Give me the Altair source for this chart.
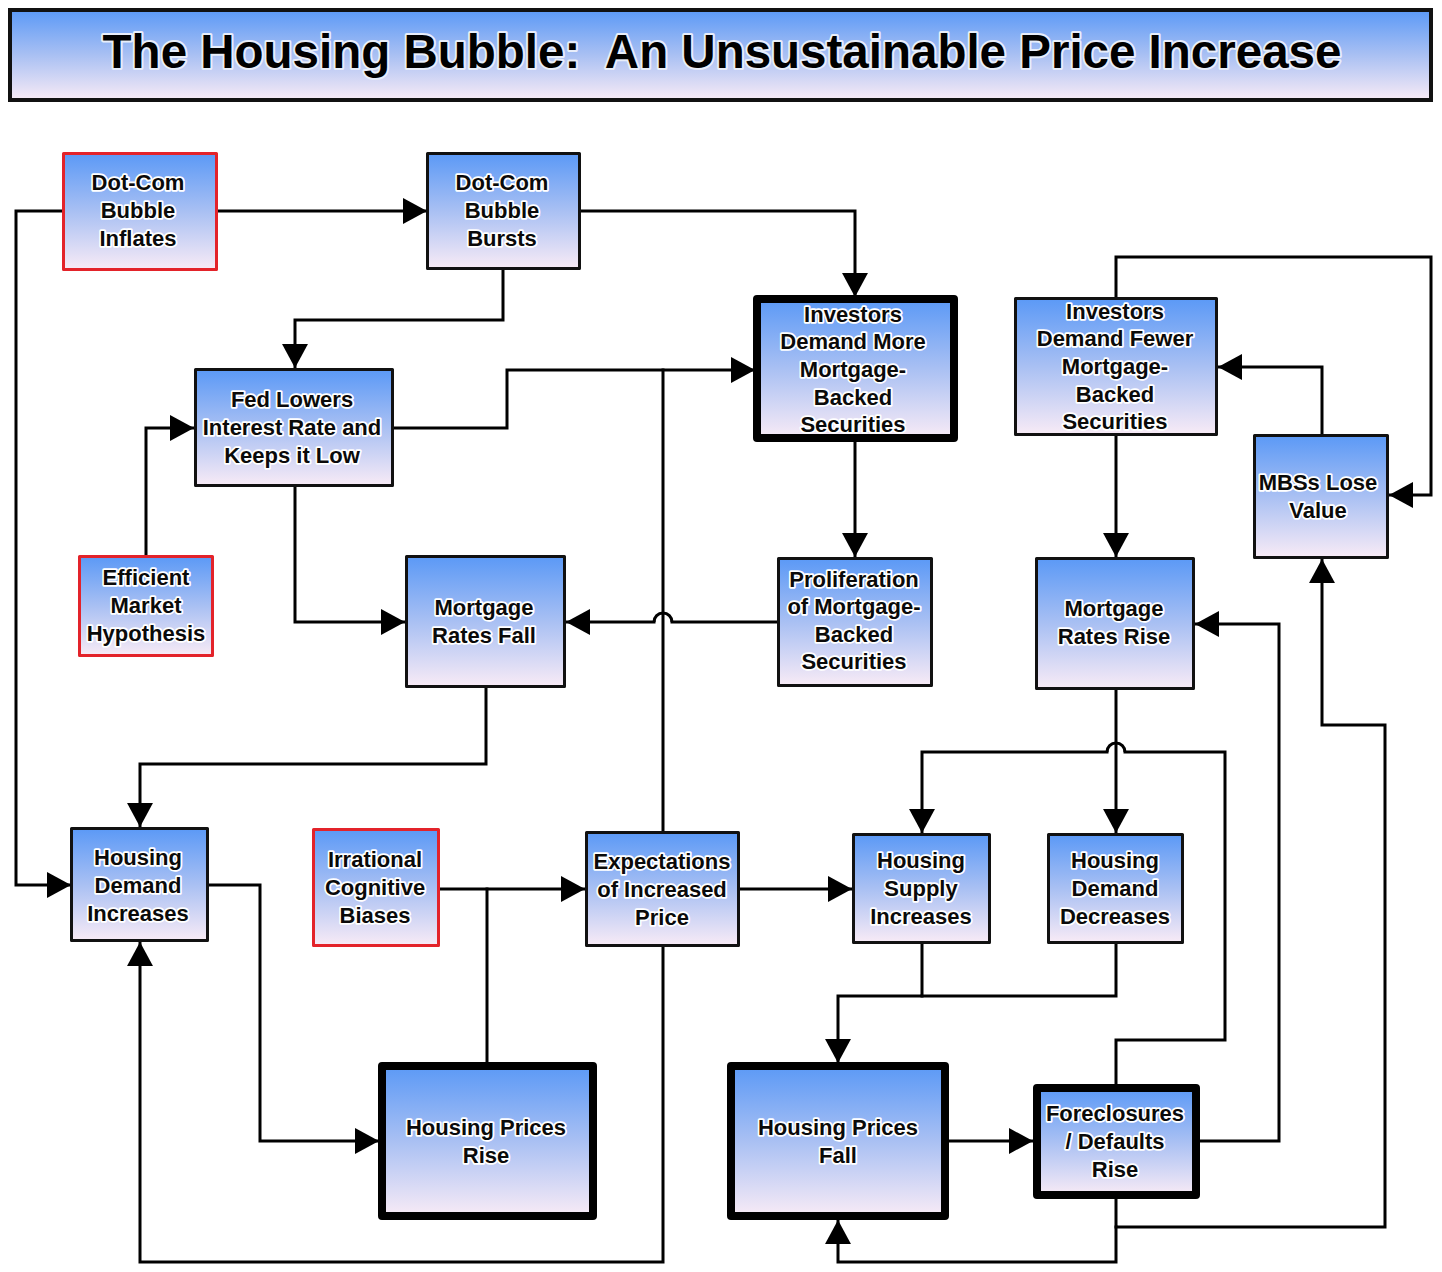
import altair as alt
import pandas as pd

TITLE = "The Housing Bubble:\u00a0 An Unsustainable Price Increase"

# ---- nodes (outer edges of each box, border kind) ----
box_labels = [
    "Dot-Com\nBubble\nInflates",
    "Dot-Com\nBubble\nBursts",
    "Investors\nDemand More\nMortgage-\nBacked\nSecurities",
    "Investors\nDemand Fewer\nMortgage-\nBacked\nSecurities",
    "MBSs Lose\nValue",
    "Fed Lowers\nInterest Rate and\nKeeps it Low",
    "Efficient\nMarket\nHypothesis",
    "Mortgage\nRates Fall",
    "Proliferation\nof Mortgage-\nBacked\nSecurities",
    "Mortgage\nRates Rise",
    "Housing\nDemand\nIncreases",
    "Irrational\nCognitive\nBiases",
    "Expectations\nof Increased\nPrice",
    "Housing\nSupply\nIncreases",
    "Housing\nDemand\nDecreases",
    "Housing Prices\nRise",
    "Housing Prices\nFall",
    "Foreclosures\n/ Defaults\nRise",
]
box_left   = [62, 426, 753, 1014, 1253, 194, 78, 405, 777, 1035, 70, 312, 585, 852, 1047, 378, 727, 1033]
box_top    = [152, 152, 295, 297, 434, 368, 555, 555, 557, 557, 827, 828, 831, 833, 833, 1062, 1062, 1084]
box_right  = [218, 581, 958, 1218, 1389, 394, 214, 566, 933, 1195, 209, 440, 740, 991, 1184, 597, 949, 1200]
box_bottom = [271, 270, 442, 436, 559, 487, 657, 688, 687, 690, 942, 947, 947, 944, 944, 1220, 1220, 1199]
box_kind   = ["red", "thin", "thick", "thin", "thin", "thin", "red", "thin", "thin", "thin",
              "thin", "red", "thin", "thin", "thin", "thick", "thick", "thick"]
text_x = [138, 502, 853, 1115, 1318, 292, 146, 484, 854, 1114, 138, 375, 662, 921, 1115, 486, 838, 1115]
text_y = [211, 211, 370, 367, 497, 428, 606, 622, 621, 623, 886, 888, 890, 889, 889, 1142, 1142, 1142]

# ---- connectors (polylines) ----
paths = [
    [(217, 211), (427, 211)],
    [(62, 211), (16, 211), (16, 885), (71, 885)],
    [(580, 211), (855, 211), (855, 297)],
    [(503, 269), (503, 320), (295, 320), (295, 368)],
    [(393, 428), (507, 428), (507, 370), (755, 370)],
    [(146, 556), (146, 428), (194, 428)],
    [(295, 486), (295, 622), (405, 622)],
    [(855, 440), (855, 557)],
    [(778, 622), (672, 622)],
    [(654, 622), (566, 622)],
    [(663, 832), (663, 370)],
    [(486, 687), (486, 764), (140, 764), (140, 827)],
    [(208, 885), (260, 885), (260, 1141), (379, 1141)],
    [(487, 1063), (487, 889)],
    [(439, 889), (585, 889)],
    [(739, 889), (852, 889)],
    [(663, 946), (663, 1262), (140, 1262), (140, 942)],
    [(1116, 435), (1116, 557)],
    [(1116, 689), (1116, 833)],
    [(1116, 1085), (1116, 1040), (1225, 1040), (1225, 752), (1125, 752)],
    [(1107, 752), (922, 752), (922, 833)],
    [(922, 943), (922, 996), (838, 996), (838, 1063)],
    [(1116, 943), (1116, 996), (922, 996)],
    [(947, 1141), (1033, 1141)],
    [(1198, 1141), (1279, 1141), (1279, 624), (1195, 624)],
    [(1116, 1198), (1116, 1227), (1385, 1227), (1385, 725), (1322, 725), (1322, 559)],
    [(1116, 1227), (1116, 1262), (838, 1262), (838, 1220)],
    [(1322, 435), (1322, 367), (1218, 367)],
    [(1116, 298), (1116, 257), (1431, 257), (1431, 495), (1389, 495)],
]

# arrow tips: x, y, direction (degrees clockwise from pointing right)
arrow_x = [427, 71, 855, 295, 755, 194, 405, 855, 566, 140, 379, 585, 852, 140,
           1116, 1116, 922, 838, 1033, 1195, 1322, 838, 1218, 1389]
arrow_y = [211, 885, 297, 368, 370, 428, 622, 557, 622, 827, 1141, 889, 889, 942,
           557, 833, 833, 1063, 1141, 624, 559, 1220, 367, 495]
arrow_dir = [0, 0, 90, 90, 0, 0, 0, 90, 180, 90, 0, 0, 0, 270,
             90, 90, 90, 90, 0, 180, 270, 270, 180, 180]

# line-jump hops
hop_x = [663, 1116]
hop_y = [622, 752]

LH = 27.6

# ---- build tables ----
stroke_col = {"red": "#e3232a", "thin": "#111111", "thick": "#000000"}
stroke_w = {"red": 3, "thin": 3, "thick": 8}
rows = []
for i, lab in enumerate(box_labels):
    k = box_kind[i]
    h = stroke_w[k] / 2
    n = lab.count("\n")
    rows.append(dict(l=box_left[i] + h, r=box_right[i] - h, t=box_top[i] + h, b=box_bottom[i] - h,
                     stroke=stroke_col[k], sw=stroke_w[k], label=lab,
                     tx=text_x[i], ty=text_y[i] - n * LH / 2))
boxes = pd.DataFrame(rows)

prow = []
for pid, pts in enumerate(paths):
    for j, (px, py) in enumerate(pts):
        prow.append(dict(pid=pid, ord=j, x=px, y=py))
lines = pd.DataFrame(prow)

arrows = pd.DataFrame(dict(x=arrow_x, y=arrow_y, ang=arrow_dir))
hops = pd.DataFrame(dict(x=hop_x, y=hop_y))
title_df = pd.DataFrame([dict(l=10, r=1431, t=10, b=100, x=722, y=54, label=TITLE)])

xs = alt.Scale(domain=[8, 1434], nice=False, zero=False)
ys = alt.Scale(domain=[8, 1264], nice=False, zero=False, reverse=True)

def X(f):
    return alt.X(f, type="quantitative", scale=xs, axis=None)

def Y(f):
    return alt.Y(f, type="quantitative", scale=ys, axis=None)

grad = {
    "gradient": "linear", "x1": 0, "y1": 0, "x2": 0, "y2": 1,
    "stops": [
        {"offset": 0, "color": "#5b99f6"},
        {"offset": 0.5, "color": "#a9c0f3"},
        {"offset": 1, "color": "#f8ebf6"},
    ],
}

FONT = "Liberation Sans"
FS = 22
TFS = 47.5

line_layer = alt.Chart(lines).mark_line(
    color="black", strokeWidth=3, strokeJoin="miter", strokeCap="square"
).encode(x=X("x"), y=Y("y"), detail="pid:N", order="ord:Q")

hop_layer = alt.Chart(hops).mark_point(
    shape="M-1,0 A1,1 0 0,1 1,0", filled=False, size=324, stroke="black",
    strokeWidth=3, opacity=1,
).encode(x=X("x"), y=Y("y"))

box_layer = alt.Chart(boxes).mark_rect(fill=grad, strokeJoin="round").encode(
    x=X("l"), x2="r", y=Y("t"), y2="b",
    stroke=alt.Stroke("stroke:N", scale=None),
    strokeWidth=alt.StrokeWidth("sw:Q", scale=None),
)

title_box = alt.Chart(title_df).mark_rect(
    fill=grad, stroke="#111111", strokeWidth=4
).encode(x=X("l"), x2="r", y=Y("t"), y2="b")

title_halo = alt.Chart(title_df).mark_text(
    font=FONT, fontWeight="bold", fontSize=TFS, fill="white", stroke="#e8eefa",
    strokeWidth=4, strokeJoin="round", align="center", baseline="middle",
).encode(x=X("x"), y=Y("y"), text="label:N")

title_text = alt.Chart(title_df).mark_text(
    font=FONT, fontWeight="bold", fontSize=TFS, fill="black",
    align="center", baseline="middle",
).encode(x=X("x"), y=Y("y"), text="label:N")

halo = alt.Chart(boxes).mark_text(
    font=FONT, fontWeight="bold", fontSize=FS, lineBreak="\n", lineHeight=LH,
    fill="white", stroke="white", strokeWidth=3.5, strokeJoin="round",
    align="center", baseline="middle",
).encode(x=X("tx"), y=Y("ty"), text="label:N")

label = alt.Chart(boxes).mark_text(
    font=FONT, fontWeight="bold", fontSize=FS, lineBreak="\n", lineHeight=LH,
    fill="#0a0a0a", align="center", baseline="middle",
).encode(x=X("tx"), y=Y("ty"), text="label:N")

arrow_layer = alt.Chart(arrows).mark_point(
    shape="M0,0 L-2,-1.08 L-2,1.08 Z", filled=True, size=576, color="black",
    opacity=1, strokeWidth=0,
).encode(x=X("x"), y=Y("y"), angle=alt.Angle("ang:Q", scale=None))

chart = alt.layer(
    line_layer, hop_layer, box_layer, title_box, title_halo, title_text,
    halo, label, arrow_layer,
).properties(
    width=1426, height=1256, padding=0,
    autosize=alt.AutoSizeParams(type="none"),
    background="white",
).configure_view(stroke=None)

chart.save("out.html", embed_options={"renderer": "svg", "actions": False})
